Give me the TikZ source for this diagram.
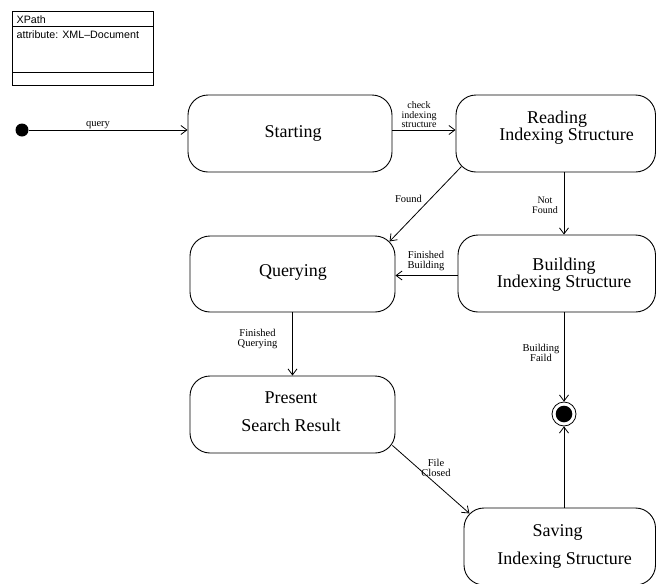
\documentclass[tikz,border=0pt]{standalone}
\usepackage{fontspec}
\setmainfont{Liberation Serif}
\setsansfont{Liberation Sans}
\usetikzlibrary{arrows.meta,calc}

\begin{document}
\begin{tikzpicture}[x=1pt,y=-1pt,
  statebox/.style={draw, line width=0.9pt, rounded corners=20pt, inner sep=0pt},
  statetext/.style={align=center, inner sep=0pt, font=\fontsize{18}{15}\selectfont},
  widetext/.style={align=center, inner sep=0pt, font=\fontsize{18}{28}\selectfont},
  trans/.style={draw, line width=0.8pt, -{Straight Barb[length=6pt,width=9pt]}},
  guard/.style={align=center, inner sep=0pt, font=\fontsize{10.5}{9.5}\selectfont},
  classtext/.style={anchor=west, inner sep=0pt, font=\sffamily\fontsize{10.7}{12}\selectfont}]

\useasboundingbox (0,0) rectangle (657,584);
\clip (0,0) rectangle (657,584);

% class box
\draw[line width=0.8pt] (12.3,11.7) rectangle (153,85);
\draw[line width=0.8pt] (12.3,26.7) -- (153,26.7);
\draw[line width=0.8pt] (12.3,72.3) -- (153,72.3);
\node[classtext] (cname) at (16.5,19.5) {XPath};
\node[classtext] (cattr) at (16.5,35) {attribute: XML–Document};

% pseudo states
\node[circle, fill=black, minimum size=13pt, inner sep=0pt] (init) at (22,130) {};
\node[circle, draw, line width=0.8pt, minimum size=24pt, inner sep=0pt] (fin) at (564,414) {};
\fill (fin.center) circle (8.3pt);

% state boxes
\node[statebox, minimum width=204pt, minimum height=77pt] (start) at (290,133.5) {};
\node[statebox, minimum width=199.5pt, minimum height=77pt] (read) at (555.75,133.5) {};
\node[statebox, minimum width=205pt, minimum height=76pt] (query) at (292.5,274) {};
\node[statebox, minimum width=197.5pt, minimum height=77pt] (build) at (556.75,273.5) {};
\node[statebox, minimum width=205pt, minimum height=77pt] (present) at (292.5,414.5) {};
\node[statebox, minimum width=191.5pt, minimum height=77pt] (save) at (559.75,546.5) {};

% state names
\node[statetext] (starttxt) at (293,133) {Starting};
\node[statetext] (readtxt) at (566.5,128) {Reading\rule{19pt}{0pt}\\Indexing Structure};
\node[statetext] (querytxt) at (293,272) {Querying};
\node[statetext] (buildtxt) at (564,275) {Building\\Indexing Structure};
\node[widetext] (presenttxt) at (291,412) {Present\\Search Result};
\node[widetext] (savetxt) at (564.5,546) {Saving\rule{14pt}{0pt}\\Indexing Structure};

% transitions
\draw[trans] (init) -- (init -| start.west);
\draw[trans] (init -| start.east) -- (init -| read.west);
\draw[trans] ($(read.south west)+(5.86,-5.86)$) -- ($(query.north east)+(-5.86,5.86)$);
\draw[trans] (read.south -| fin) -- (build.north -| fin);
\draw[trans] ([yshift=-2pt]build.west) -- ([yshift=-2pt]build.west -| query.east);
\draw[trans] (query.south -| present) -- (present.north);
\draw[trans] (build.south -| fin) -- (fin.north);
\draw[trans] (save.north -| fin) -- (fin.south);
\draw[trans] ($(present.south east)+(-3,-8)$) -- ($(save.north west)+(5.86,5.86)$);

% guards
\node[guard] (lquery) at (98,125) {query};
\node[guard, font=\fontsize{10}{9.5}\selectfont] (lcheck) at (419,115) {check\\indexing\\structure};
\node[guard, font=\fontsize{10}{9.5}\selectfont] (lnotfound) at (545,205.5) {Not\\Found};
\node[guard] (lfound) at (408.5,199) {Found};
\node[guard, font=\fontsize{10.5}{10}\selectfont] (lfinb) at (426,261) {Finished\\Building};
\node[guard, font=\fontsize{10.5}{10}\selectfont] (lfinq) at (257.5,339) {Finished\\Querying};
\node[guard, font=\fontsize{10.5}{10}\selectfont] (lfail) at (541,352.5) {Building\\Faild};
\node[guard, font=\fontsize{10.5}{10}\selectfont] (lclosed) at (436,468) {File\\Closed};
\end{tikzpicture}
\end{document}
